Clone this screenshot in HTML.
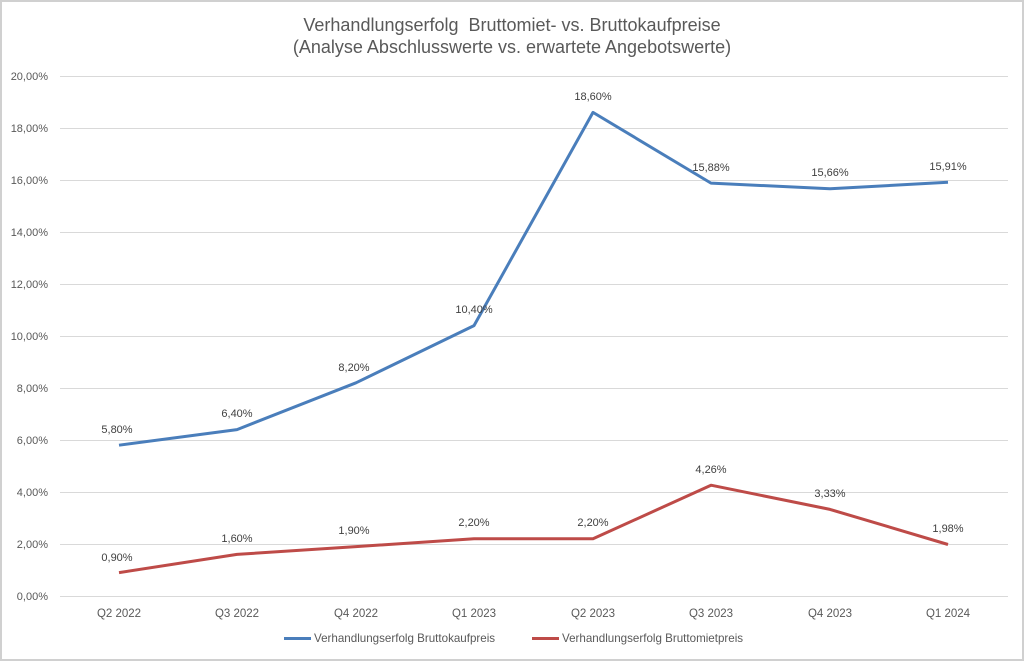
<!DOCTYPE html>
<html><head><meta charset="utf-8"><style>
html,body{margin:0;padding:0;background:#fff}
svg{display:block;font-family:"Liberation Sans",sans-serif}
</style></head><body>
<svg width="1024" height="661" viewBox="0 0 1024 661">
<rect x="1" y="1" width="1022" height="659" fill="#fff" stroke="#d0d0d0" stroke-width="2"/>
<g fill="#595959" font-size="18" text-anchor="middle">
<text x="512" y="31">Verhandlungserfolg&#160; Bruttomiet- vs. Bruttokaufpreise</text>
<text x="512" y="53">(Analyse Abschlusswerte vs. erwartete Angebotswerte)</text>
</g>
<g stroke="#d9d9d9" stroke-width="1">
<line x1="60" x2="1008" y1="76.5" y2="76.5"/><line x1="60" x2="1008" y1="128.5" y2="128.5"/>
<line x1="60" x2="1008" y1="180.5" y2="180.5"/><line x1="60" x2="1008" y1="232.5" y2="232.5"/>
<line x1="60" x2="1008" y1="284.5" y2="284.5"/><line x1="60" x2="1008" y1="336.5" y2="336.5"/>
<line x1="60" x2="1008" y1="388.5" y2="388.5"/><line x1="60" x2="1008" y1="440.5" y2="440.5"/>
<line x1="60" x2="1008" y1="492.5" y2="492.5"/><line x1="60" x2="1008" y1="544.5" y2="544.5"/>
<line x1="60" x2="1008" y1="596.5" y2="596.5"/>
</g>
<g fill="#595959" font-size="11" text-anchor="end">
<text x="48" y="80">20,00%</text><text x="48" y="132">18,00%</text><text x="48" y="184">16,00%</text>
<text x="48" y="236">14,00%</text><text x="48" y="288">12,00%</text><text x="48" y="340">10,00%</text>
<text x="48" y="392">8,00%</text><text x="48" y="444">6,00%</text><text x="48" y="496">4,00%</text>
<text x="48" y="548">2,00%</text><text x="48" y="600">0,00%</text>
</g>
<g fill="#595959" font-size="11.5" text-anchor="middle">
<text x="119" y="617">Q2 2022</text><text x="237" y="617">Q3 2022</text><text x="356" y="617">Q4 2022</text>
<text x="474" y="617">Q1 2023</text><text x="593" y="617">Q2 2023</text><text x="711" y="617">Q3 2023</text>
<text x="830" y="617">Q4 2023</text><text x="948" y="617">Q1 2024</text>
</g>
<polyline fill="none" stroke="#4a7ebb" stroke-width="3" stroke-linejoin="round" points="119,445.2 237,429.6 356,382.8 474,325.6 593,112.4 711,183.1 830,188.8 948,182.3"/>
<polyline fill="none" stroke="#be4b48" stroke-width="3" stroke-linejoin="round" points="119,572.6 237,554.4 356,546.6 474,538.8 593,538.8 711,485.2 830,509.4 948,544.5"/>
<g fill="#404040" font-size="11" text-anchor="middle">
<text x="117" y="433">5,80%</text><text x="237" y="417">6,40%</text><text x="354" y="371">8,20%</text>
<text x="474" y="313">10,40%</text><text x="593" y="100">18,60%</text><text x="711" y="171">15,88%</text>
<text x="830" y="176">15,66%</text><text x="948" y="170">15,91%</text>
<text x="117" y="561">0,90%</text><text x="237" y="542">1,60%</text><text x="354" y="534">1,90%</text>
<text x="474" y="526">2,20%</text><text x="593" y="526">2,20%</text><text x="711" y="473">4,26%</text>
<text x="830" y="497">3,33%</text><text x="948" y="532">1,98%</text>
</g>
<line x1="284" x2="311" y1="638.5" y2="638.5" stroke="#4a7ebb" stroke-width="3"/>
<text x="314" y="642" fill="#595959" font-size="11.6">Verhandlungserfolg Bruttokaufpreis</text>
<line x1="532" x2="559" y1="638.5" y2="638.5" stroke="#be4b48" stroke-width="3"/>
<text x="562" y="642" fill="#595959" font-size="11.6">Verhandlungserfolg Bruttomietpreis</text>
</svg>
</body></html>
